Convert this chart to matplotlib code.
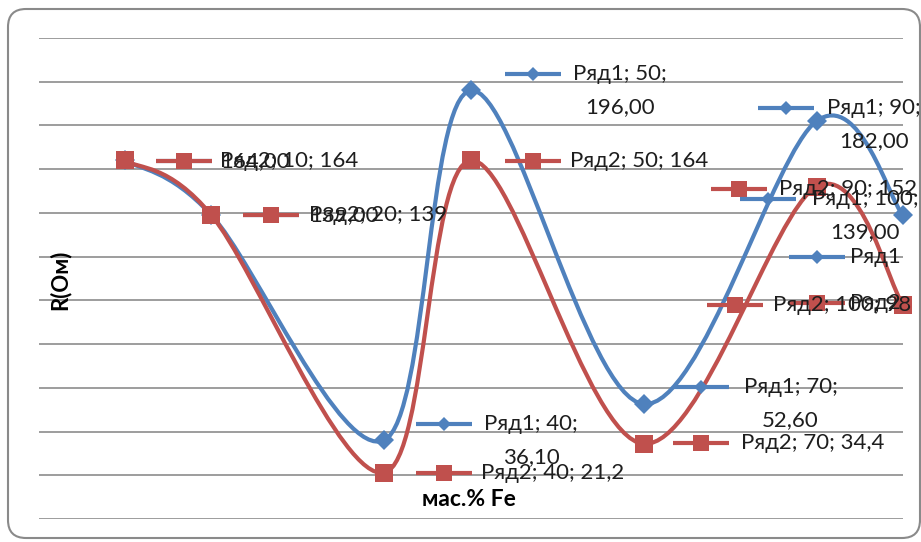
import numpy as np
import matplotlib.pyplot as plt
from matplotlib.path import Path
from matplotlib.patches import PathPatch, FancyBboxPatch
from matplotlib.transforms import offset_copy, IdentityTransform

plt.rcParams['font.family'] = ['Lato', 'DejaVu Sans']

# data (мас.% Fe vs R, Ом)
x_fe = [10, 20, 40, 50, 70, 90, 100]
r1 = [164, 139, 36.1, 196, 52.6, 182, 139]
r2 = [164, 139, 21.2, 164, 34.4, 152, 98]
series_names = ['Ряд1', 'Ряд2']

blue = '#4f81bd'
red = '#c0504d'

# data labels: (series, point, key dx, key dy, text dx, ha, lines) -- offsets in px
labels = [
    (0, 0, 59, 1, 95, 'left', ['164,00']),
    (1, 0, 59, 1, 95, 'left', ['Ряд2; 10; 164']),
    (0, 1, 60, 0, 98, 'left', ['139,00']),
    (1, 1, 60, 0, 98, 'left', ['Ряд2; 20; 139']),
    (0, 2, 60, -16, 147, 'center', ['Ряд1; 40;', '36,10']),
    (1, 2, 60, 0, 97, 'left', ['Ряд2; 40; 21,2']),
    (0, 3, 62, -16, 149, 'center', ['Ряд1; 50;', '196,00']),
    (1, 3, 62, 1, 99, 'left', ['Ряд2; 50; 164']),
    (0, 4, 57, -17, 147, 'center', ['Ряд1; 70;', '52,60']),
    (1, 4, 57, -1, 97, 'left', ['Ряд2; 70; 34,4']),
    (0, 5, -31, -13, 57, 'center', ['Ряд1; 90;', '182,00']),
    (1, 5, -78, 2, -38, 'left', ['Ряд2; 90; 152']),
    (0, 6, -135, -16, -38, 'center', ['Ряд1; 100;', '139,00']),
    (0, 6, -86, 42, -53, 'left', ['Ряд1']),
    (1, 6, -168, 0, -130, 'left', ['Ряд2; 100; 98']),
    (1, 6, -86, -2, -53, 'left', ['Ряд2']),
]


def smooth_path(xs, ys):
    # excel-like bezier smoothing through the points
    p = np.column_stack([xs, ys]).astype(float)
    n = len(p)
    verts = [p[0]]
    codes = [Path.MOVETO]
    for i in range(n - 1):
        p0 = p[max(i - 1, 0)]
        p3 = p[min(i + 2, n - 1)]
        c1 = p[i] + (p[i + 1] - p0) / 6.
        c2 = p[i + 1] - (p3 - p[i]) / 6.
        verts += [c1, c2, p[i + 1]]
        codes += [Path.CURVE4] * 3
    return Path(verts, codes)


fig = plt.figure(figsize=(9.21, 5.42), dpi=100)
ax = fig.add_axes([38.5 / 921, 23 / 542, 864.5 / 921, 481 / 542])

styles = [(r1, blue, 'D', 10.5, 7.5), (r2, red, 's', 13.5, 12)]
for k, (vals, col, mk, ms, key_ms) in enumerate(styles):
    ax.add_patch(PathPatch(smooth_path(x_fe, vals), fill=False, ec=col,
                           lw=3, zorder=3 + k, capstyle='round'))
    ax.plot(x_fe, vals, ls='none', marker=mk, ms=ms, mew=0, color=col,
            zorder=3 + k, clip_on=False)

for s, i, kdx, kdy, tdx, ha, lines in labels:
    vals, col, mk, ms, key_ms = styles[s]
    x, y = x_fe[i], vals[i]
    key_tr = offset_copy(ax.transData, fig=fig, x=kdx, y=-kdy, units='dots')
    ax.plot([x], [y], marker='_', ms=40, mew=3, color=col,
            transform=key_tr, zorder=6, clip_on=False)
    ax.plot([x], [y], marker=mk, ms=key_ms, mew=0, color=col,
            transform=key_tr, zorder=6, clip_on=False)
    for j, line in enumerate(lines):
        tr = offset_copy(ax.transData, fig=fig, x=tdx, y=-(kdy + 33 * j), units='dots')
        ax.text(x, y, line, transform=tr, ha=ha, va='center', fontsize=16,
                color='#1e1e1e', zorder=7, clip_on=False)

ax.set_xlim(0, 100)
ax.set_ylim(0, 220)
ax.set_yticks(np.arange(0, 221, 20))
ax.set_xticks([])
ax.tick_params(left=False, labelleft=False)
ax.grid(axis='y', color='#8c8c8c', lw=1.2)
ax.set_axisbelow(True)
for sp in ax.spines.values():
    sp.set_visible(False)

fig.text(60 / 921, 1 - 280 / 542, 'R(Ом)', rotation=90, ha='center', va='center',
         fontsize=16, fontweight='bold')
fig.text(469 / 921, 1 - 500 / 542, 'мас.% Fe', ha='center', va='center',
         fontsize=16.5, fontweight='bold')

border = FancyBboxPatch((8, 4), 912, 529, boxstyle='round,pad=0,rounding_size=18',
                        fill=False, ec='#8a8a8a', lw=1.5, transform=IdentityTransform())
fig.add_artist(border)

fig.savefig('out.png', dpi=100)
